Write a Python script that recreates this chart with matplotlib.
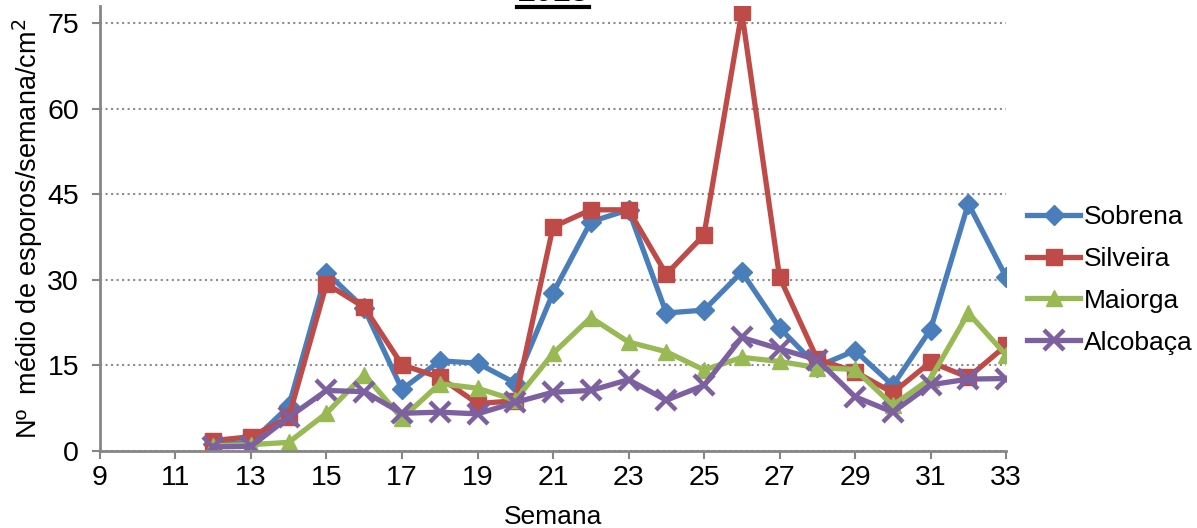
import matplotlib
matplotlib.use("Agg")
import matplotlib.pyplot as plt
from matplotlib.lines import Line2D

plt.rcParams['font.family'] = ['Liberation Sans', 'DejaVu Sans']

# weeks and mean spore counts per site
semanas = list(range(12, 34))
sobrena = [1.2, 1.5, 7.8, 31.3, 25.0, 10.8, 15.8, 15.4, 11.9, 27.7, 40.2, 42.3,
           24.2, 24.7, 31.4, 21.6, 14.8, 17.6, 11.5, 21.3, 43.4, 30.5]
silveira = [1.8, 2.5, 5.9, 29.3, 25.2, 15.1, 12.9, 8.3, 8.8, 39.3, 42.3, 42.3,
            31.0, 37.9, 77.0, 30.5, 16.1, 13.9, 10.2, 15.6, 12.9, 18.5]
maiorga = [0.9, 1.1, 1.5, 6.6, 13.4, 5.7, 11.8, 11.0, 8.9, 17.1, 23.4, 19.1,
           17.4, 14.2, 16.4, 15.7, 14.6, 14.3, 8.0, 12.7, 24.2, 16.8]
alcobaca = [0.7, 0.8, 5.9, 10.6, 10.4, 6.6, 6.8, 6.5, 8.5, 10.3, 10.6, 12.5,
            8.9, 11.5, 19.9, 17.9, 16.0, 9.5, 6.8, 11.6, 12.6, 12.7]

nomes = ['Sobrena', 'Silveira', 'Maiorga', 'Alcobaça']
cores = ['#4A7EBB', '#BE4B48', '#98B954', '#7D60A0']
marcadores = ['D', 's', '^', 'x']
series = [sobrena, silveira, maiorga, alcobaca]

fig = plt.figure(figsize=(11.97, 5.28), dpi=100)
ax = fig.add_axes([0.0835, 0.146, 0.757, 0.842])

for nome, cor, m, vals in zip(nomes, cores, marcadores, series):
    kw = dict(markersize=11)
    if m == 'x':
        kw = dict(markersize=15, markeredgewidth=3.2)
    elif m == 'D':
        kw = dict(markersize=10)
    ax.plot(semanas, vals, color=cor, linewidth=3.8, marker=m, label=nome,
            markeredgecolor=cor, markerfacecolor=cor, **kw)

ax.set_xlim(9, 33)
ax.set_ylim(0, 78)
ax.set_xticks(range(9, 34, 2))
ax.set_yticks(range(0, 76, 15))
ax.tick_params(labelsize=20.5, length=6, width=1.5, color='#868686', direction='out')
ax.tick_params(axis='y', pad=9)
ax.tick_params(axis='x', pad=4)
ax.grid(axis='y', linestyle=':', color='#8c8c8c', linewidth=1.5)
ax.set_axisbelow(True)
for s in ['top', 'right']:
    ax.spines[s].set_visible(False)
for s in ['left', 'bottom']:
    ax.spines[s].set_color('#868686')
    ax.spines[s].set_linewidth(2)

ax.set_xlabel('Semana', fontsize=19, labelpad=10)
ax.set_ylabel('Nº  médio de esporos/semana/cm$^2$', fontsize=19.5, labelpad=2)

leg = ax.legend(loc='center left', bbox_to_anchor=(1.0, 0.385), frameon=False,
                fontsize=19, handlelength=2.0, labelspacing=0.68, handletextpad=0.15,
                borderaxespad=0.4)

# title, cut off at the top of the picture
fig.text(0.462, 1.014, '2013', fontsize=23, fontweight='bold', ha='center', va='center')
fig.add_artist(Line2D([0.432, 0.492], [0.986, 0.986], color='black', linewidth=3,
                      transform=fig.transFigure))

fig.savefig('out.png', dpi=100)
